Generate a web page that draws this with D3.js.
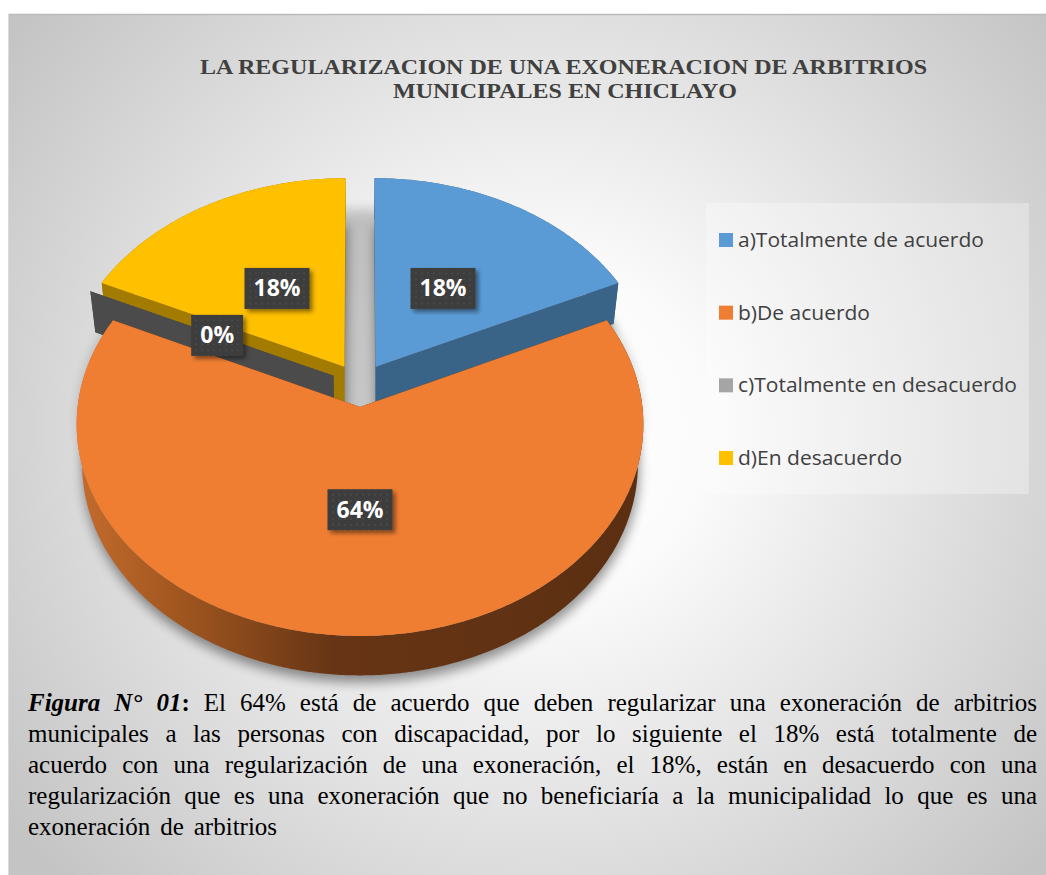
<!DOCTYPE html>
<html>
<head>
<meta charset="utf-8">
<script src="https://cdn.jsdelivr.net/npm/d3@7"></script>
<style>
  body { margin: 0; background: #fff; }
</style>
</head>
<body>
<div id="chart"></div>
<script>
// data
const categories = ["a)Totalmente de acuerdo", "b)De acuerdo", "c)Totalmente en desacuerdo", "d)En desacuerdo"];
const values = [18, 64, 0, 18];
const pctLabels = ["18%", "64%", "0%", "18%"];
const colors = ["#5b9bd5", "#ef7e32", "#a5a5a5", "#ffc000"];
const titleLines = ["LA REGULARIZACION  DE UNA EXONERACION  DE ARBITRIOS", "MUNICIPALES EN CHICLAYO"];
const captionLines = [
  "Figura N° 01: El 64% está de acuerdo que deben regularizar una exoneración de arbitrios",
  "municipales a las personas con discapacidad, por lo siguiente el 18% está totalmente de",
  "acuerdo con una regularización de una exoneración,  el 18%, están en desacuerdo con una",
  "regularización que es una exoneración que no beneficiaría a la municipalidad lo que es una",
  "exoneración de arbitrios"
];

const w = 1046;
const h = 875;

const svg = d3.select('#chart')
  .append('svg')
  .attr('width', w)
  .attr('height', h);

const defs = svg.append('defs');

// background of the chart area
const bg = defs.append('radialGradient')
  .attr('id', 'bgGrad')
  .attr('gradientUnits', 'userSpaceOnUse')
  .attr('cx', 540).attr('cy', 430).attr('r', 660);
bg.append('stop').attr('offset', '0%').attr('stop-color', '#ffffff');
bg.append('stop').attr('offset', '25%').attr('stop-color', '#fbfbfb');
bg.append('stop').attr('offset', '100%').attr('stop-color', '#c4c4c4');

const sideGrad = defs.append('linearGradient')
  .attr('id', 'orangeSide')
  .attr('gradientUnits', 'userSpaceOnUse')
  .attr('x1', 79).attr('x2', 642).attr('y1', 0).attr('y2', 0);
sideGrad.append('stop').attr('offset', '0%').attr('stop-color', '#c46b2d');
sideGrad.append('stop').attr('offset', '18%').attr('stop-color', '#a0561f');
sideGrad.append('stop').attr('offset', '45%').attr('stop-color', '#673515');
sideGrad.append('stop').attr('offset', '100%').attr('stop-color', '#5c2f12');

const blur = defs.append('filter').attr('id', 'softShadow')
  .attr('x', '-20%').attr('y', '-20%').attr('width', '140%').attr('height', '140%');
blur.append('feGaussianBlur').attr('stdDeviation', 6);

const lblShadow = defs.append('filter').attr('id', 'lblShadow')
  .attr('x', '-30%').attr('y', '-30%').attr('width', '170%').attr('height', '170%');
lblShadow.append('feDropShadow')
  .attr('dx', 3).attr('dy', 3).attr('stdDeviation', 2)
  .attr('flood-color', '#000').attr('flood-opacity', 0.45);

const dots = defs.append('pattern').attr('id', 'dots')
  .attr('patternUnits', 'userSpaceOnUse').attr('width', 6).attr('height', 6);
dots.append('rect').attr('width', 6).attr('height', 6).attr('fill', '#3c3c3c');
dots.append('circle').attr('cx', 3).attr('cy', 3).attr('r', 0.8).attr('fill', '#575757');

svg.append('rect')
  .attr('x', 8).attr('y', 14)
  .attr('width', w - 8).attr('height', h - 14)
  .attr('fill', 'url(#bgGrad)');
svg.append('line')
  .attr('x1', 8).attr('x2', w).attr('y1', 14.5).attr('y2', 14.5)
  .attr('stroke', '#bababa').attr('stroke-width', 1.5);
svg.append('line')
  .attr('x1', 8.5).attr('x2', 8.5).attr('y1', 14).attr('y2', h)
  .attr('stroke', '#dadada').attr('stroke-width', 1);

// title
const titleWidths = [727, 344];
svg.selectAll('.title')
  .data(titleLines)
  .enter()
  .append('text')
  .attr('class', 'title')
  .attr('x', (d, i) => i === 0 ? 563.5 : 565)
  .attr('y', (d, i) => i === 0 ? 74 : 98)
  .attr('text-anchor', 'middle')
  .attr('textLength', (d, i) => titleWidths[i])
  .attr('lengthAdjust', 'spacingAndGlyphs')
  .attr('font-family', "'Liberation Serif', 'Times New Roman', serif")
  .attr('font-weight', 'bold')
  .attr('font-size', 21)
  .attr('fill', '#404040')
  .text(d => d);

// 3D pie: perspective projection of a tilted disk
const phi = 47.6 * Math.PI / 180;
const D = 8.3;
const F = 280 * D;
const cx = 360, cy = 385;
const thick = 0.22;
const explode = 0.105;
const labelR = 0.47;

function project(X, Y, Z) {
  const d = Z * Math.cos(phi) - Y * Math.sin(phi);
  const v = Y * Math.cos(phi) + Z * Math.sin(phi);
  const k = F / (D + d);
  return [cx + X * k, cy - v * k];
}

const pie = d3.pie().sort(null).value(d => d);
const arcs = pie(values).map((a, i) => {
  const mid = (a.startAngle + a.endAngle) / 2;
  return Object.assign(a, {
    i: i,
    ox: explode * Math.sin(mid),
    oz: explode * Math.cos(mid),
    mid: mid
  });
});

const pt = (a, ang, r, Y) => project(a.ox + r * Math.sin(ang), Y, a.oz + r * Math.cos(ang));

function arcPoints(a, Y) {
  const n = Math.max(1, Math.ceil((a.endAngle - a.startAngle) / 0.01));
  return d3.range(n + 1).map(j => {
    const ang = a.startAngle + (a.endAngle - a.startAngle) * j / n;
    return pt(a, ang, 1, Y);
  });
}

const line = d3.line().curve(d3.curveLinearClosed);

// draw far slices first
const order = arcs.slice().sort((a, b) => b.oz - a.oz);

// shadow on the background
const whole = { startAngle: 0, endAngle: 2 * Math.PI, ox: 0, oz: 0 };
svg.append('path')
  .attr('d', line(arcPoints(whole, 0)))
  .attr('transform', 'translate(0,16)')
  .attr('fill', '#000')
  .attr('opacity', 0.2)
  .attr('filter', 'url(#softShadow)');

const shadowG = svg.append('g')
  .attr('transform', 'translate(1,7)')
  .attr('filter', 'url(#softShadow)')
  .attr('opacity', 0.42);
order.forEach(a => {
  if (a.endAngle - a.startAngle <= 0) return;
  shadowG.append('path')
    .attr('d', line([pt(a, 0, 0, -thick)].concat(arcPoints(a, -thick))))
    .attr('fill', '#000');
});

const pieG = svg.append('g');
order.forEach(a => {
  const g = pieG.append('g');
  const side = a.i === 1 ? 'url(#orangeSide)' : d3.color(colors[a.i]).darker(a.i === 2 ? 2.2 : 1.25);
  // radial cut faces
  [a.startAngle, a.endAngle].forEach(ang => {
    g.append('path')
      .attr('d', line([pt(a, ang, 0, 0), pt(a, ang, 1, 0), pt(a, ang, 1, -thick), pt(a, ang, 0, -thick)]))
      .attr('fill', a.i === 1 ? '#5c2f12' : side);
  });
  if (a.endAngle - a.startAngle <= 0) return;
  // outer rim
  g.append('path')
    .attr('d', line(arcPoints(a, 0).concat(arcPoints(a, -thick).reverse())))
    .attr('fill', side);
  // top
  g.append('path')
    .attr('d', line([pt(a, 0, 0, 0)].concat(arcPoints(a, 0))))
    .attr('fill', colors[a.i]);
});

// data labels
const lblG = svg.append('g');
arcs.forEach(a => {
  const p = pt(a, a.mid, labelR, 0);
  const g = lblG.append('g').attr('transform', 'translate(' + p[0] + ',' + p[1] + ')');
  const rect = g.append('rect').attr('filter', 'url(#lblShadow)').attr('fill', 'url(#dots)');
  const t = g.append('text')
    .attr('text-anchor', 'middle')
    .attr('y', 8)
    .attr('font-family', "'Open Sans', 'Noto Sans', sans-serif")
    .attr('font-weight', 'bold')
    .attr('font-size', 23)
    .attr('fill', '#ffffff')
    .text(pctLabels[a.i]);
  const tw = t.node().getComputedTextLength();
  rect.attr('x', -(tw + 18) / 2).attr('y', -20.5)
    .attr('width', tw + 18).attr('height', 41);
});

// legend
const legendY = d3.scalePoint().domain(categories).range([240, 458]);
svg.append('rect')
  .attr('x', 706).attr('y', 203)
  .attr('width', 323).attr('height', 291)
  .attr('fill', '#ffffff').attr('opacity', 0.3);
const legend = svg.selectAll('.legend')
  .data(categories)
  .enter()
  .append('g')
  .attr('class', 'legend')
  .attr('transform', d => 'translate(719,' + legendY(d) + ')');
legend.append('rect')
  .attr('x', 0).attr('y', -7)
  .attr('width', 14).attr('height', 14)
  .attr('fill', (d, i) => colors[i]);
legend.append('text')
  .attr('x', 19).attr('y', 7)
  .attr('font-family', "'Open Sans', 'Noto Sans', sans-serif")
  .attr('font-size', 20)
  .attr('fill', '#404040')
  .text(d => d)
  .each(function () {
    const len = this.getComputedTextLength();
    d3.select(this).attr('textLength', len * 1.05).attr('lengthAdjust', 'spacingAndGlyphs');
  });

// caption, justified
const capFont = "'Liberation Serif', 'Times New Roman', serif";
const capX0 = 28, capX1 = 1037;
const capY = d3.scalePoint().domain(d3.range(captionLines.length)).range([711, 835]);
const capG = svg.append('g')
  .attr('font-family', capFont)
  .attr('font-size', 25)
  .attr('fill', '#000');

captionLines.forEach((ln, li) => {
  const words = ln.split(' ').filter(s => s.length);
  const nodes = words.map((wd, wi) => {
    const t = capG.append('text').attr('y', capY(li));
    if (li === 0 && wi < 3) {
      if (wd.endsWith(':')) {
        t.append('tspan').attr('font-weight', 'bold').attr('font-style', 'italic').text(wd.slice(0, -1));
        t.append('tspan').attr('font-weight', 'bold').text(':');
      } else {
        t.attr('font-weight', 'bold').attr('font-style', 'italic').text(wd);
      }
    } else {
      t.text(wd);
    }
    return t;
  });
  const widths = nodes.map(t => t.node().getComputedTextLength());
  const total = d3.sum(widths);
  const last = li === captionLines.length - 1;
  const gap = last ? 10 : (capX1 - capX0 - total) / (words.length - 1);
  let x = capX0;
  nodes.forEach((t, k) => {
    t.attr('x', x);
    x += widths[k] + gap;
  });
});
</script>
</body>
</html>
